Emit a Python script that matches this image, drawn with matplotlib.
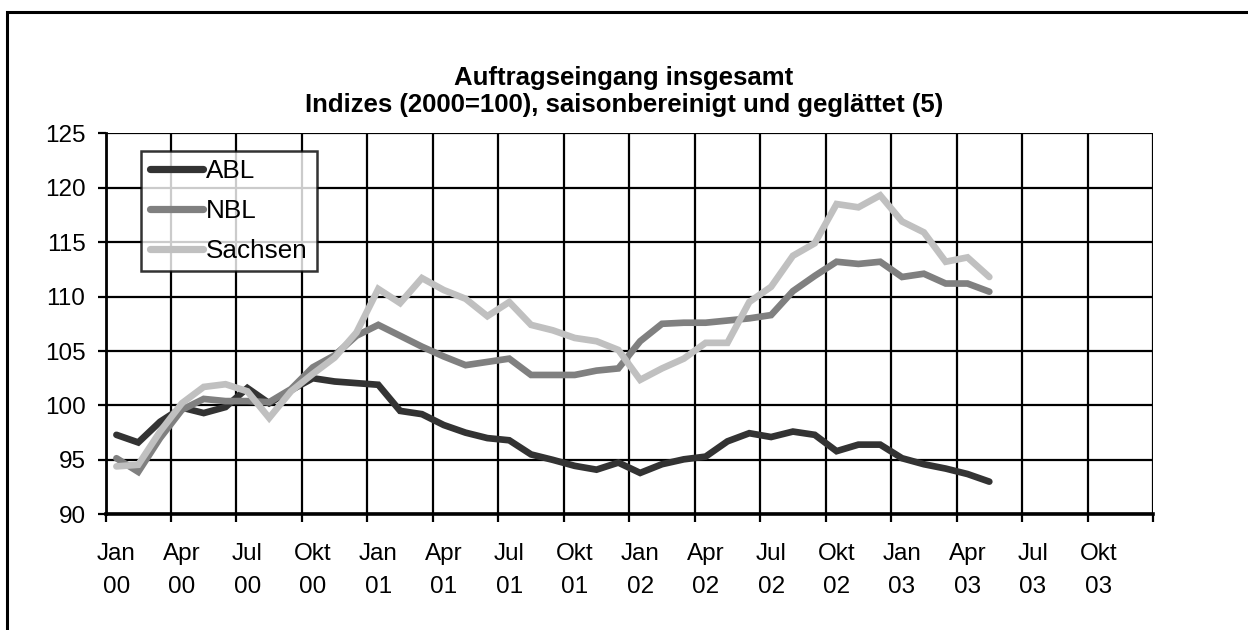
import matplotlib
matplotlib.use("Agg")
import matplotlib.pyplot as plt
from matplotlib.patches import Rectangle

plt.rcParams['font.family'] = ['Liberation Sans', 'DejaVu Sans']

quarter_labels = ["Jan\n00", "Apr\n00", "Jul\n00", "Okt\n00",
                  "Jan\n01", "Apr\n01", "Jul\n01", "Okt\n01",
                  "Jan\n02", "Apr\n02", "Jul\n02", "Okt\n02",
                  "Jan\n03", "Apr\n03", "Jul\n03", "Okt\n03"]

abl = [97.3, 96.6, 98.5, 99.8, 99.3, 99.85, 101.6, 100.2, 101.4, 102.5,
       102.2, 102.05, 101.9, 99.5, 99.2, 98.2, 97.5, 97.0, 96.8, 95.5,
       95.0, 94.45, 94.1, 94.75, 93.8, 94.6, 95.05, 95.3, 96.7, 97.45,
       97.1, 97.6, 97.3, 95.8, 96.4, 96.4, 95.15, 94.6, 94.2, 93.7, 93.0]
nbl = [95.15, 93.9, 97.0, 99.6, 100.6, 100.4, 100.4, 100.3, 101.5, 103.5,
       104.6, 106.4, 107.4, 106.4, 105.4, 104.5, 103.7, 104.0, 104.3, 102.8,
       102.8, 102.8, 103.2, 103.4, 105.9, 107.5, 107.6, 107.6, 107.8, 108.0,
       108.3, 110.5, 111.9, 113.2, 113.0, 113.2, 111.8, 112.1, 111.2, 111.2, 110.45]
sachsen = [94.4, 94.55, 97.6, 100.2, 101.7, 101.95, 101.3, 98.85, 101.3, 102.9,
           104.4, 106.7, 110.7, 109.4, 111.7, 110.6, 109.8, 108.2, 109.5, 107.4,
           106.9, 106.2, 105.9, 105.1, 102.35, 103.4, 104.3, 105.75, 105.75, 109.5,
           110.9, 113.75, 114.9, 118.5, 118.2, 119.3, 116.9, 115.9, 113.2, 113.6, 111.8]

series = [("ABL", abl, "#333333"), ("NBL", nbl, "#808080"), ("Sachsen", sachsen, "#c0c0c0")]

fig = plt.figure(figsize=(12.48, 6.30), dpi=100)
ax = fig.add_axes([105.5 / 1248, 1 - 514.3 / 630, (1153 - 105.5) / 1248, (514.3 - 133.3) / 630])

# outer chart frame (extends beyond the image on the right and bottom)
fig.patches.append(Rectangle((7 / 1248, -0.05), 1.2, 1 - 12 / 630 + 0.05,
                             transform=fig.transFigure, fill=False,
                             edgecolor="black", linewidth=2.2, zorder=0))

n_months = 48
for name, vals, col in series:
    xs = [i + 0.5 for i in range(len(vals))]
    ax.plot(xs, vals, color=col, linewidth=4.8, label=name,
            solid_joinstyle="miter", solid_capstyle="round", zorder=3)

ax.set_xlim(0, n_months)
ax.set_ylim(90, 125)
ax.set_yticks(range(90, 126, 5))
ax.set_xticks(range(0, n_months + 1, 3))
ax.set_xticklabels([])
ax.set_xticks([i + 0.5 for i in range(0, n_months, 3)], minor=True)
ax.set_xticklabels(quarter_labels, minor=True)

ax.grid(True, which="major", color="black", linewidth=1.6, zorder=1)
for s in ["top", "right"]:
    ax.spines[s].set_visible(False)
ax.spines["left"].set_linewidth(2.0)
ax.spines["bottom"].set_linewidth(2.6)
ax.tick_params(axis="both", which="major", direction="out", length=6, width=1.6,
               labelsize=17.5, colors="black")
ax.tick_params(axis="x", which="minor", length=0, labelsize=17.5, pad=20.5)
ax.tick_params(axis="y", pad=8.4)
for lab in ax.get_xticklabels(minor=True):
    lab.set_linespacing(1.68)

leg = ax.legend(loc="upper left", bbox_to_anchor=((141 - 105.5) / 1047.5, (514.3 - 150.7) / 381),
                frameon=True, fancybox=False, edgecolor="black", fontsize=18.8,
                handlelength=2.05, handletextpad=0.12, borderpad=0.33, labelspacing=0.6,
                borderaxespad=0)
leg.get_frame().set_linewidth(1.8)
leg.set_zorder(5)
for h in leg.get_lines():
    h.set_linewidth(5.2)

fig.text(0.5, 1 - 78.5 / 630, "Auftragseingang insgesamt", ha="center", va="center",
         fontsize=18.5, fontweight="bold")
fig.text(0.5, 1 - 105 / 630, "Indizes (2000=100), saisonbereinigt und geglättet (5)",
         ha="center", va="center", fontsize=18.5, fontweight="bold")

fig.savefig("out.png", dpi=100)
